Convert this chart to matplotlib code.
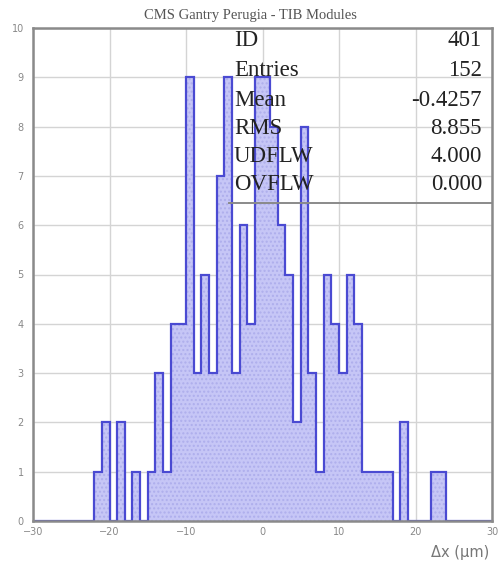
import numpy as np
import matplotlib
matplotlib.use("Agg")
import matplotlib.pyplot as plt
from matplotlib.lines import Line2D

# Histogram content: 1-unit bins covering [-30, 30)
bin_edges = list(range(-30, 31))
counts = [
    0, 0, 0, 0, 0, 0, 0, 0,          # -30 .. -23
    1, 2, 0, 2, 0, 1, 0, 1,          # -22 .. -15
    3, 1, 4, 4, 9, 3, 5, 3,          # -14 .. -7
    7, 9, 3, 6, 4, 9, 9, 8,          # -6 .. 1
    6, 5, 2, 8, 3, 1, 5, 4,          # 2 .. 9
    3, 5, 4, 1, 1, 1, 1, 0,          # 10 .. 17
    2, 0, 0, 0, 1, 1, 0, 0,          # 18 .. 25
    0, 0, 0, 0,                      # 26 .. 29
]

stat_names = ["ID", "Entries", "Mean", "RMS", "UDFLW", "OVFLW"]
stat_values = ["401", "152", "-0.4257", "8.855", "4.000", "0.000"]

title = "CMS Gantry Perugia - TIB Modules"
x_label = "Δx (μm)"
x_ticks = [-30, -20, -10, 0, 10, 20, 30]
y_ticks = list(range(0, 11))

W, H = 501, 564
fig = plt.figure(figsize=(W / 100, H / 100), dpi=100)
fig.patch.set_facecolor("white")

def fx(px):
    return px / W

def fy(py):
    return 1 - py / H

ax = fig.add_axes([fx(33), fy(521), (492 - 33) / W, (521 - 28) / H])
ax.set_xlim(-30, 30)
ax.set_ylim(0, 10)

# grid
ax.set_xticks(x_ticks)
ax.set_yticks(y_ticks)
ax.grid(True, color="#d4d4d4", linewidth=1.0)
ax.set_axisbelow(True)

edges = np.array(bin_edges, dtype=float)
vals = np.array(counts, dtype=float)

# filled bars with a fine dotted texture
ax.bar(edges[:-1], vals, width=np.diff(edges), align="edge",
       color="#c6c6f6", edgecolor="#aeaeec", linewidth=0, hatch="....",
       zorder=2)
# step outline
ax.stairs(vals, edges, baseline=0, fill=False, color="#4a4ad2",
          linewidth=1.6, zorder=3)

for s in ax.spines.values():
    s.set_color("#8a8a8a")
    s.set_linewidth(1.8)
    s.set_zorder(4)

ax.tick_params(length=0, colors="#777777", labelsize=7, pad=4)
ax.set_xticklabels([f"\u2212{abs(t)}" if t < 0 else f"{t}" for t in x_ticks],
                   family="DejaVu Sans", color="#888888")
ax.set_yticklabels([str(t) for t in y_ticks], family="DejaVu Sans",
                   color="#888888")
for lbl in ax.get_yticklabels():
    lbl.set_x(-0.008)

fig.text(fx(460), fy(552), x_label, ha="center", va="center",
         fontsize=10.5, color="#777777", family="DejaVu Sans")

fig.text(fx(250), fy(15), title, ha="center", va="center",
         fontsize=10.5, color="#555555", family="Liberation Serif")

# statistics panel
row_y = [41, 71, 100, 128, 157, 185]
for name, val, py in zip(stat_names, stat_values, row_y):
    fig.text(fx(234), fy(py), name, ha="left", va="center",
             fontsize=16.5, color="#222222", family="Liberation Serif")
    fig.text(fx(482), fy(py), val, ha="right", va="center",
             fontsize=16.5, color="#222222", family="Liberation Serif")
fig.add_artist(Line2D([fx(229), fx(492)], [fy(203), fy(203)],
                      color="#8a8a8a", linewidth=1.4))

fig.savefig("out.png", dpi=100)
